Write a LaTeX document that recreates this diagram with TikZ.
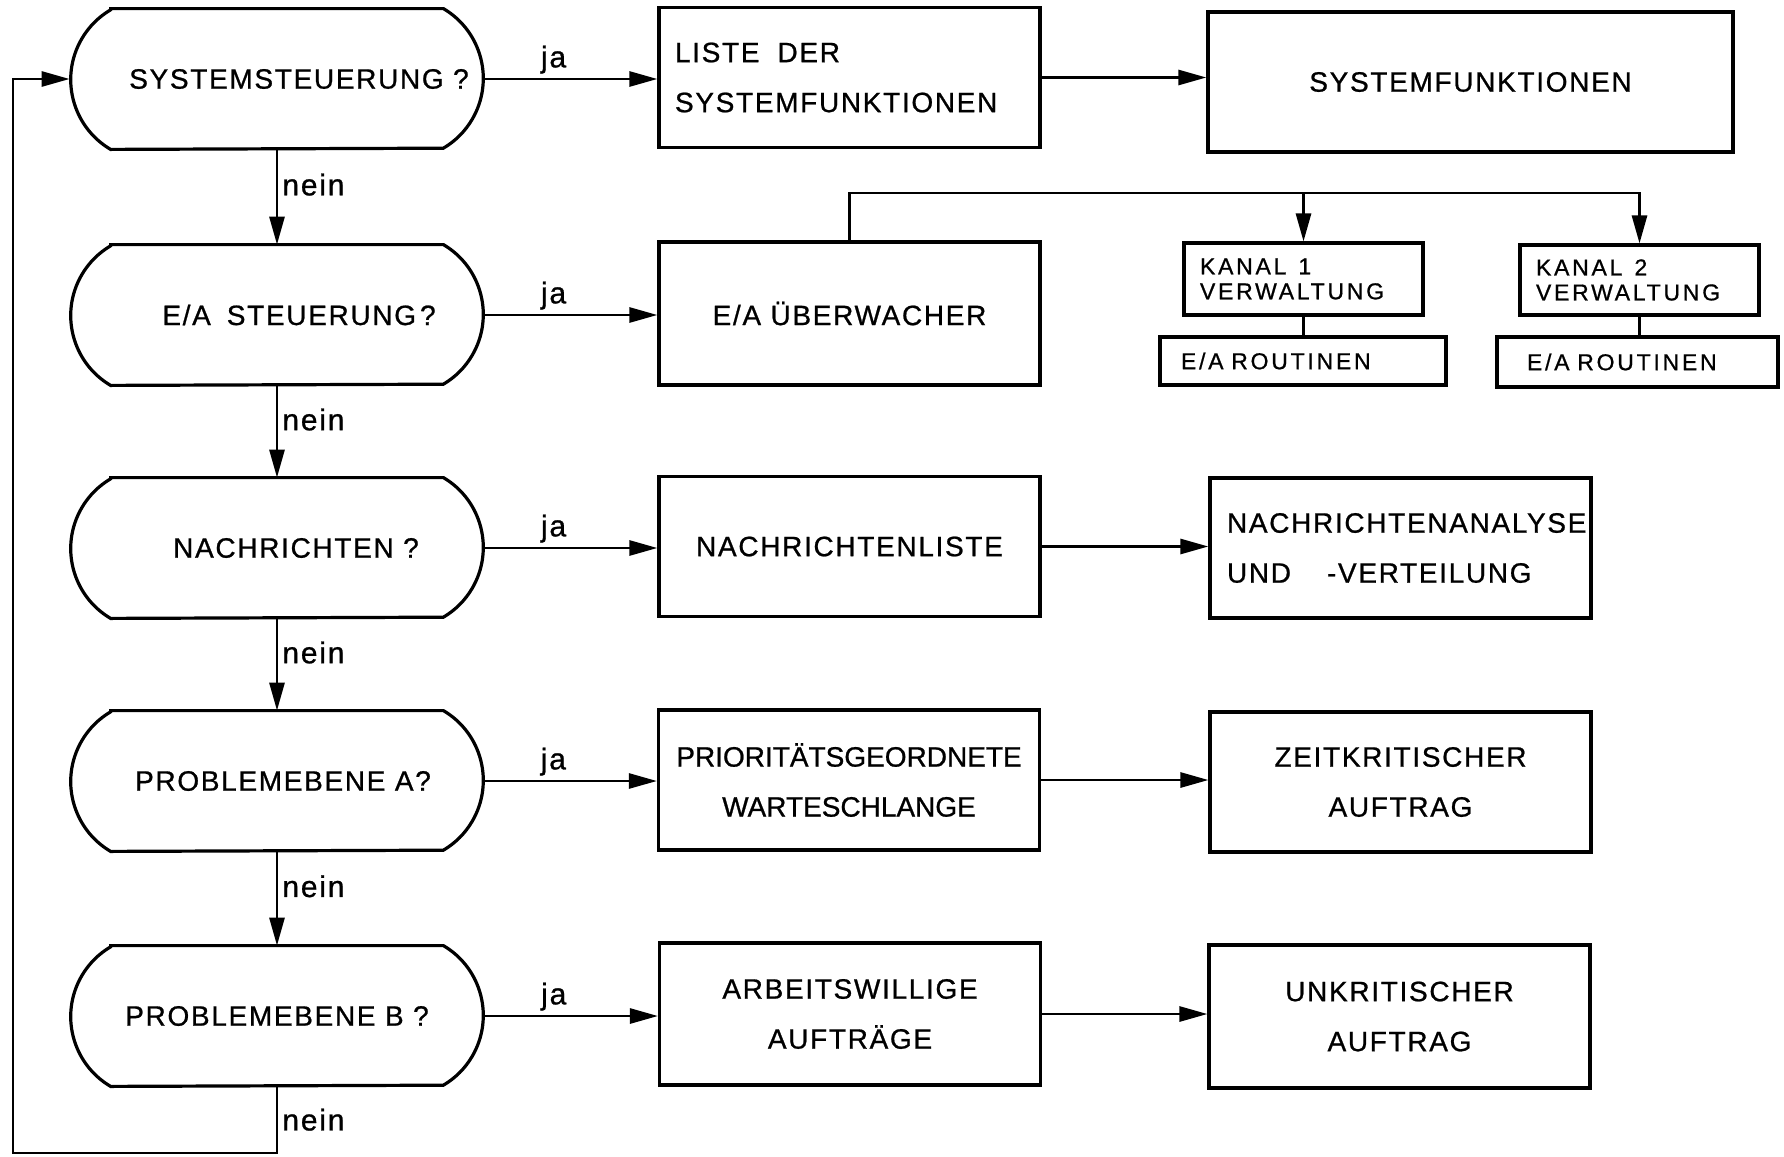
\documentclass[tikz,border=0pt]{standalone}
\usepackage{fontspec}
\setmainfont[LetterSpace=6,FakeBold=0.8]{Liberation Sans}
\newfontfamily\narrowfam[FakeBold=0.8]{Liberation Sans}
\newfontfamily\smallfam[LetterSpace=12,FakeBold=0.8]{Liberation Sans}
\usetikzlibrary{arrows.meta}
\newcommand\fmain{\fontsize{14}{25}\selectfont}
\newcommand\flab{\fontsize{15}{18}\selectfont}
\newcommand\fsmall{\smallfam\fontsize{11.5}{12.5}\selectfont}
\tikzset{
  boxline/.style={line width=1.6pt},
  box/.style={boxline, draw, rectangle, inner sep=0pt, minimum width=190.5pt,
    minimum height=70pt, align=center, font=\fmain},
  smallbox/.style={boxline, draw, rectangle, inner sep=0pt, align=left, font=\fsmall},
  dec/.style={rectangle, inner sep=0pt, minimum width=207pt, minimum height=70pt, font=\fmain},
  conn/.style={line width=1.4pt},
  arr/.style={conn, -{Triangle[length=14pt,width=7.5pt]}},
  lab/.style={font=\flab, inner sep=2pt},
}
\begin{document}
\begin{tikzpicture}[x=0.5pt,y=-0.5pt]
\useasboundingbox (0,0) rectangle (1784,1157);

% decisions
\node[dec] (d1) at (277,79)   {\hspace*{22pt}SYSTEMSTEUERUNG ?};
\node[dec] (d2) at (277,315)  {\hspace*{22pt}E/A\hspace{8pt}STEUERUNG\kern2pt?};
\node[dec] (d3) at (277,548)  {\hspace*{19pt}NACHRICHTEN ?};
\node[dec] (d4) at (277,781)  {\hspace*{6pt}PROBLEMEBENE A?};
\node[dec] (d5) at (277,1016) {PROBLEMEBENE B ?};
\foreach \n in {d1,d2,d3,d4,d5}
  \draw[boxline] ([xshift=20.5pt]\n.north west) -- ([xshift=-20.5pt]\n.north east)
    arc[start angle=59.5,end angle=-59.5,radius=40.5pt]
    -- ([xshift=20.5pt]\n.south west)
    arc[start angle=-120.5,end angle=-239.5,radius=40.5pt] -- cycle;

% boxes
\node[box, text width=174.5pt, align=left] (liste) at (849.5,77.5) {LISTE\hspace{9pt}DER\\SYSTEMFUNKTIONEN};
\node[box, minimum width=262.5pt] (sysf) at (1470.5,82) {SYSTEMFUNKTIONEN};
\node[box, minimum height=71.5pt] (eaue) at (849.5,313.5) {E/A ÜBERWACHER};
\node[smallbox, minimum width=119.5pt, minimum height=36pt, text width=103.5pt] (k1) at (1303.5,279) {KANAL\hspace{6pt}1\\VERWALTUNG};
\node[smallbox, minimum width=143pt, minimum height=24pt, text width=122pt] (r1) at (1303,361) {E/A ROUTINEN};
\node[smallbox, minimum width=119.5pt, minimum height=35pt, text width=103.5pt] (k2) at (1639.5,280) {KANAL\hspace{6pt}2\\VERWALTUNG};
\node[smallbox, minimum width=140.5pt, minimum height=25pt, text width=110.5pt] (r2) at (1637.5,362) {E/A ROUTINEN};
\node[box] (nliste) at (849.5,546.5) {NACHRICHTENLISTE};
\node[box, text width=173.5pt, align=left] (nana) at (1400.5,548) {NACHRICHTENANALYSE\\UND\hspace{18pt}-VERTEILUNG};
\node[box, font={\narrowfam\fmain}] (prio) at (849,780) {PRIORITÄTSGEORDNETE\\WARTESCHLANGE};
\node[box] (zeit) at (1400.5,782) {ZEITKRITISCHER\\AUFTRAG};
\node[box, minimum height=71pt] (arb) at (850,1014) {ARBEITSWILLIGE\\AUFTRÄGE};
\node[box, minimum height=71.5pt] (unk) at (1399.5,1016.5) {UNKRITISCHER\\AUFTRAG};

% ja connectors
\draw[arr] (d1.east) -- node[lab,above,pos=0.4] (ja1) {ja} (d1.east -| liste.west);
\draw[arr] (d2.east) -- node[lab,above,pos=0.4] (ja2) {ja} (d2.east -| eaue.west);
\draw[arr] (d3.east) -- node[lab,above,pos=0.4] (ja3) {ja} (d3.east -| nliste.west);
\draw[arr] (d4.east) -- node[lab,above,pos=0.4] (ja4) {ja} (d4.east -| prio.west);
\draw[arr] (d5.east) -- node[lab,above,pos=0.4] (ja5) {ja} (d5.east -| arb.west);

% second column to third
\draw[arr] (liste.east) -- (liste.east -| sysf.west);
\draw[arr] (nliste.east) -- (nliste.east -| nana.west);
\draw[arr] (prio.east) -- (prio.east -| zeit.west);
\draw[arr] (arb.east) -- (arb.east -| unk.west);

% nein connectors
\draw[arr] (d1.south) -- node[lab,right,pos=0.37] (n1) {nein} (d2.north);
\draw[arr] (d2.south) -- node[lab,right,pos=0.37] (n2) {nein} (d3.north);
\draw[arr] (d3.south) -- node[lab,right,pos=0.37] (n3) {nein} (d4.north);
\draw[arr] (d4.south) -- node[lab,right,pos=0.37] (n4) {nein} (d5.north);
\coordinate (lc) at (13,1153);
\draw[arr] (d5.south) |- node[lab,right,pos=0.25] (n5) {nein} (lc) |- (d1.west);

% channel bus
\coordinate (bus) at (1000,193);
\draw[arr] (eaue.north) |- (bus -| k2.north) -- (k2.north);
\draw[arr] (bus -| k1.north) -- (k1.north);
\draw[conn] (k1.south) -- (k1.south |- r1.north);
\draw[conn] (k2.south) -- (k2.south |- r2.north);
\end{tikzpicture}
\end{document}
